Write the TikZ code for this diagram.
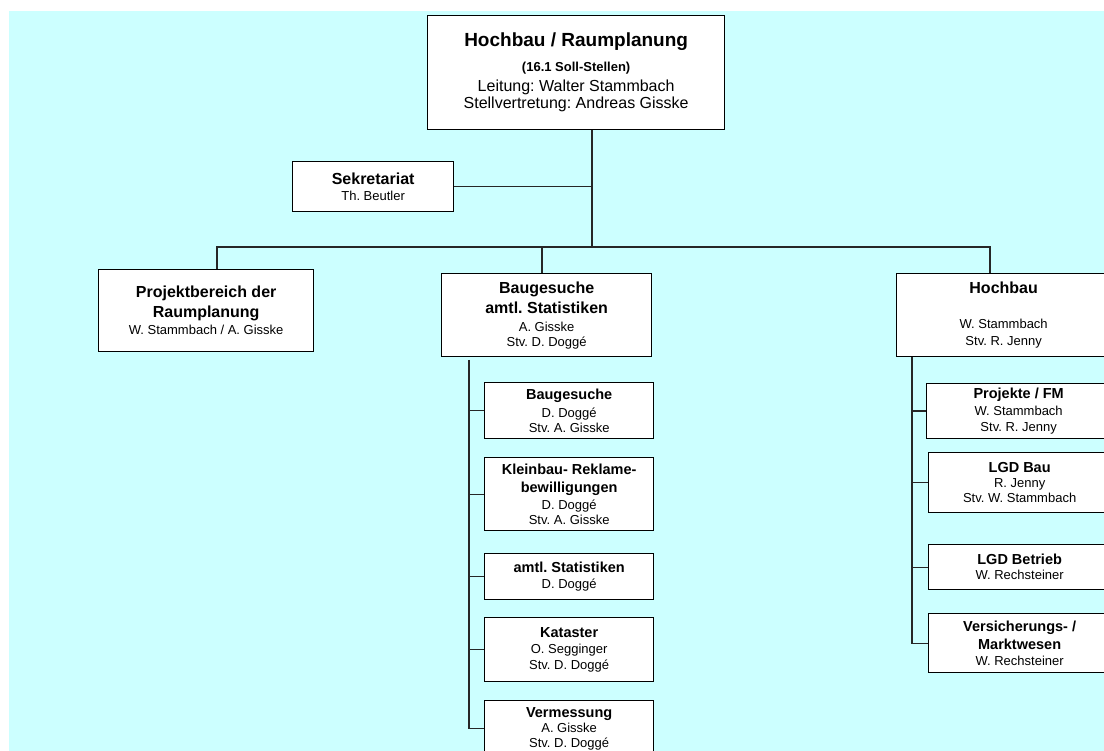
\documentclass[tikz,border=0pt]{standalone}
\usepackage{fontspec}
\setmainfont{Liberation Sans}
\usetikzlibrary{positioning}
\definecolor{bgcyan}{RGB}{204,255,255}
\newcommand{\Head}[1]{{\fontsize{16}{18}\selectfont\bfseries #1}}
\newcommand{\Sub}[1]{{\fontsize{14.5}{16}\selectfont\bfseries #1}}
\frenchspacing

\begin{document}
\begin{tikzpicture}[x=1pt,y=-1pt,
    box/.style={draw=black,line width=1.3pt,fill=white,anchor=north west,inner sep=0pt,align=center,font=\fontsize{13}{15}\selectfont},
    link/.style={line width=1.3pt,draw=black!85}]
  % Background
  \useasboundingbox (0,0) rectangle (1104,751);
  \fill[bgcyan] (9,11) rectangle (1104,751);
  % Leitung
  \node[box,minimum width=297pt,minimum height=114pt] (leit) at (427,15)
    {{\fontsize{19}{21}\selectfont\bfseries Hochbau / Raumplanung}\\[10pt]
     {\fontsize{13}{15}\selectfont\bfseries (16.1 Soll-Stellen)}\\[5pt]
     {\fontsize{16}{18}\selectfont Leitung: Walter Stammbach}\\[2pt]
     {\fontsize{16}{18}\selectfont Stellvertretung: Andreas Gisske}};
  \node[box,minimum width=161pt,minimum height=50pt] (sek) at (292,161)
    {\Head{Sekretariat}\\[1pt]Th. Beutler};
  % Bereiche
  \node[box,minimum width=215pt,minimum height=82pt] (prb) at (98,269)
    {\Head{Projektbereich der}\\[5pt]\Head{Raumplanung}\\[2pt]W. Stammbach / A. Gisske};
  \node[box,minimum width=210pt,minimum height=83pt] (bau) at (441,273)
    {\Head{Baugesuche}\\[5pt]\Head{amtl. Statistiken}\\[3pt]A. Gisske\\Stv. D. Doggé};
  \node[box,minimum width=214pt,minimum height=83pt] (hoch) at (896,273)
    {\Head{Hochbau}\\[20pt]W. Stammbach\\[2pt]Stv. R. Jenny};
  % Baugesuche
  \node[box,minimum width=169pt,minimum height=56pt] (bgs) at (484,382)
    {\Sub{Baugesuche}\\[3pt]D. Doggé\\Stv. A. Gisske};
  \node[box,minimum width=169pt,minimum height=73pt] (klein) at (484,457)
    {\Sub{Kleinbau- Reklame-}\\[3pt]\Sub{bewilligungen}\\[2pt]D. Doggé\\Stv. A. Gisske};
  \node[box,minimum width=169pt,minimum height=46pt] (stat) at (484,553)
    {\Sub{amtl. Statistiken}\\[1pt]D. Doggé};
  \node[box,minimum width=169pt,minimum height=64pt] (kat) at (484,617)
    {\Sub{Kataster}\\[1pt]O. Segginger\\[1pt]Stv. D. Doggé};
  \node[box,minimum width=169pt,minimum height=56pt] (verm) at (484,700)
    {\Sub{Vermessung}\\A. Gisske\\Stv. D. Doggé};
  % Hochbau
  \node[box,minimum width=184pt,minimum height=55pt] (proj) at (926,383)
    {\Sub{Projekte / FM}\\[2pt]W. Stammbach\\[1pt]Stv. R. Jenny};
  \node[box,minimum width=182pt,minimum height=60pt] (lgdbau) at (928,452)
    {\Sub{LGD Bau}\\R. Jenny\\Stv. W. Stammbach};
  \node[box,minimum width=182pt,minimum height=45pt] (lgdbet) at (928,544)
    {\Sub{LGD Betrieb}\\W. Rechsteiner};
  \node[box,minimum width=182pt,minimum height=59pt] (vers) at (928,613)
    {\Sub{Versicherungs- /}\\[3pt]\Sub{Marktwesen}\\[1pt]W. Rechsteiner};
  % Lines
  \coordinate (trunk) at (592,247);
  \coordinate (busL) at (217,247);
  \coordinate (busM) at (542,247);
  \coordinate (busR) at (990,247);
  \coordinate (bauspine) at (469,360);
  \coordinate (hochspine) at (912,356);
  \draw[link] (trunk |- leit.south) -- (trunk);
  \draw[link] (sek.east) -- (sek.east -| trunk);
  \draw[link] (prb.north -| busL) -- (busL) -- (busR) -- (hoch.north -| busR);
  \draw[link] (busM) -- (bau.north -| busM);
  \draw[link] (bauspine) |- (verm.west);
  \foreach \n in {bgs,klein,stat,kat}
    \draw[link] (bauspine |- \n.west) -- (\n.west);
  \draw[link] (hoch.south -| hochspine) |- (vers.west);
  \foreach \n in {proj,lgdbau,lgdbet}
    \draw[link] (hochspine |- \n.west) -- (\n.west);
\end{tikzpicture}
\end{document}
